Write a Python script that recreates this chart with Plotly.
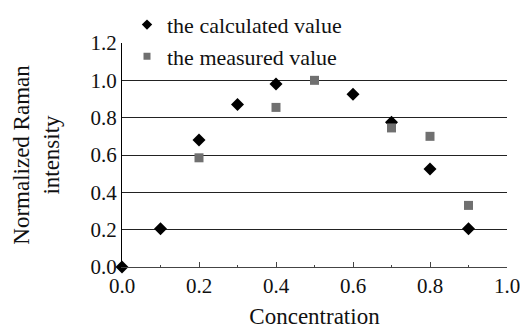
import plotly.graph_objects as go

calc_x = [0.0, 0.1, 0.2, 0.3, 0.4, 0.6, 0.7, 0.8, 0.9]
calc_y = [0.0, 0.205, 0.68, 0.87, 0.98, 0.925, 0.775, 0.525, 0.205]
meas_x = [0.2, 0.4, 0.5, 0.7, 0.8, 0.9]
meas_y = [0.585, 0.855, 1.0, 0.745, 0.70, 0.33]

FONT = "Liberation Serif"
NAMES = ["the calculated value", "the measured value"]
TITLE_FONT = dict(family=FONT, size=23, color="#111")

fig = go.Figure()
fig.add_trace(go.Scatter(x=calc_x, y=calc_y, mode="markers", name=NAMES[0], showlegend=False,
                         marker=dict(symbol="diamond", size=10, color="black"), cliponaxis=False))
fig.add_trace(go.Scatter(x=meas_x, y=meas_y, mode="markers", name=NAMES[1], showlegend=False,
                         marker=dict(symbol="square", size=9, color="#707070"), cliponaxis=False))
# legend-only entries with smaller symbols
fig.add_trace(go.Scatter(x=[None], y=[None], mode="markers", name=NAMES[0],
                         marker=dict(symbol="diamond", size=8, color="black")))
fig.add_trace(go.Scatter(x=[None], y=[None], mode="markers", name=NAMES[1],
                         marker=dict(symbol="square", size=7, color="#707070")))

fig.update_layout(
    width=528, height=333,
    margin=dict(l=114, r=29, t=35, b=74, autoexpand=False),
    paper_bgcolor="white", plot_bgcolor="white",
    font=dict(family=FONT, size=21, color="#111"),
    showlegend=True,
    legend=dict(x=0.013, y=1.175, xanchor="left", yanchor="top",
                bgcolor="rgba(0,0,0,0)", itemwidth=30,
                font=dict(family=FONT, size=22, color="#111"), tracegroupgap=0),
    xaxis=dict(range=[0, 1.0], dtick=0.2, tickformat=".1f", showgrid=False,
               showline=True, linecolor="#444", linewidth=1,
               ticks="inside", ticklen=5, tickcolor="#444",
               tickfont=dict(family=FONT, size=21, color="#111"),
               minor=dict(ticks="inside", dtick=0.1, ticklen=2, tickcolor="#444"),
               title=dict(text="Concentration", font=TITLE_FONT, standoff=10), zeroline=False),
    yaxis=dict(range=[0, 1.2], dtick=0.2, tickformat=".1f", showgrid=True,
               gridcolor="#222", gridwidth=1, showline=True, linecolor="black",
               linewidth=1, ticks="", zeroline=False,
               tickfont=dict(family=FONT, size=21, color="#111"),
               title=dict(text="Normalized Raman<br>intensity", font=TITLE_FONT, standoff=24)),
)
fig.write_html("out.html")
